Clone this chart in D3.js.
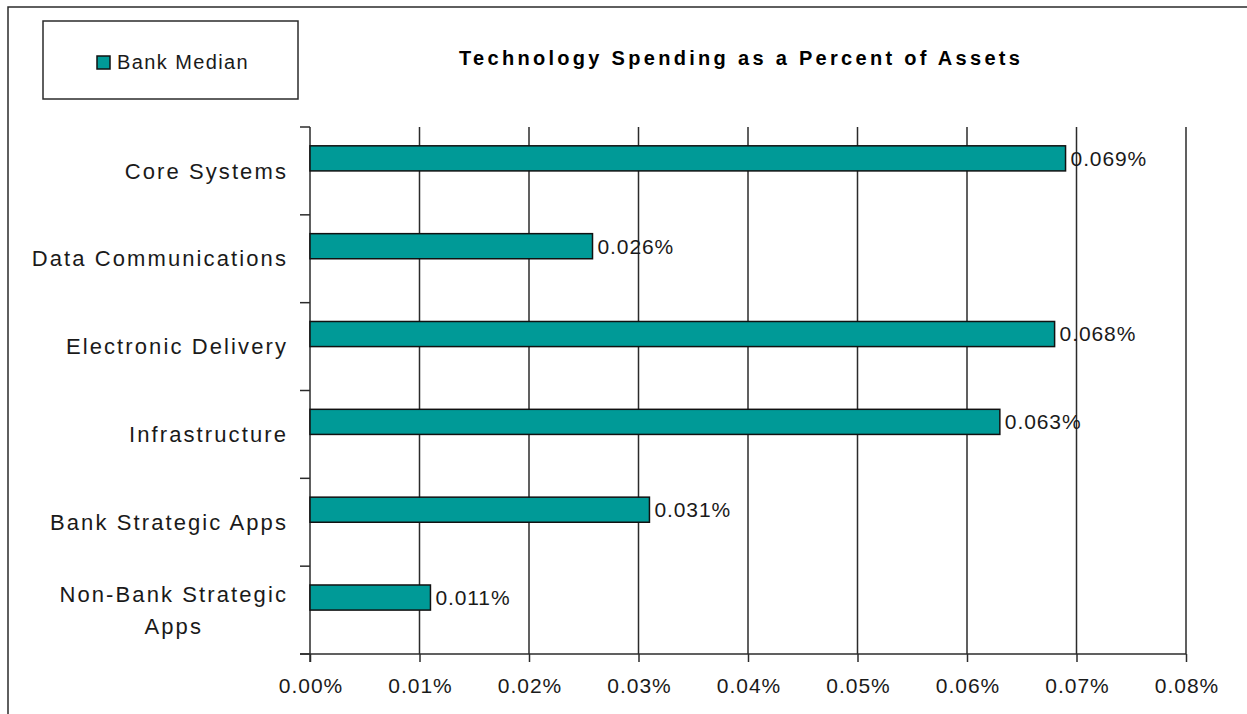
<!DOCTYPE html>
<html>
<head>
<meta charset="utf-8">
<script src="https://cdn.jsdelivr.net/npm/d3@7"></script>
<style>
  html, body { margin: 0; padding: 0; background: #fff; }
  svg { display: block; font-family: "Liberation Sans", Arial, sans-serif; }
  .cat-label { font-size: 22px; letter-spacing: 2.1px; fill: #1a1a1a; }
  .val-label { font-size: 21px; letter-spacing: 0.9px; fill: #1a1a1a; }
  .tick-label { font-size: 21px; letter-spacing: 1px; fill: #1a1a1a; }
  .legend-label { font-size: 20px; letter-spacing: 1.4px; fill: #1a1a1a; }
  .title { font-size: 20px; font-weight: bold; letter-spacing: 3.3px; fill: #000; }
</style>
</head>
<body>
<svg id="chart" width="1247" height="714"></svg>
<script>
// chart data (values are in percent)
const chartTitle = "Technology Spending as a Percent of Assets";
const seriesNames = ["Bank Median"];
const categories = [
  "Core Systems",
  "Data Communications",
  "Electronic Delivery",
  "Infrastructure",
  "Bank Strategic Apps",
  "Non-Bank Strategic Apps"
];
const bankMedian = [0.069, 0.0258, 0.068, 0.063, 0.031, 0.011];
const xTicks = [0, 0.01, 0.02, 0.03, 0.04, 0.05, 0.06, 0.07, 0.08];

const width = 1247;
const height = 714;
const plot = { left: 310, right: 1186, top: 127, bottom: 654 };
const lineColor = "#2b2b2b";
const barColor = "#009a97";

const svg = d3.select("#chart");

svg.append("rect")
  .attr("width", width)
  .attr("height", height)
  .attr("fill", "#fff");

// outer chart frame, cut off at the right and bottom edges
svg.append("path")
  .attr("d", `M8,${height + 5} L8,7 L${width + 5},7`)
  .attr("fill", "none")
  .attr("stroke", lineColor)
  .attr("stroke-width", 1.5);

// scales
const xScale = d3.scaleLinear()
  .domain([0, 0.08])
  .range([plot.left, plot.right]);

const yScale = d3.scaleBand()
  .domain(categories)
  .range([plot.top, plot.bottom])
  .paddingInner(0)
  .paddingOuter(0);

// Excel left room for two series per category (gap width 150%),
// only the first slot holds a bar
const slotScale = d3.scaleBand()
  .domain(["slot0", "slot1"])
  .range([0, yScale.bandwidth()])
  .paddingInner(0)
  .paddingOuter(0.75);

// vertical gridlines
svg.append("g")
  .selectAll("line")
  .data(xTicks.slice(1))
  .join("line")
  .attr("x1", d => xScale(d))
  .attr("x2", d => xScale(d))
  .attr("y1", plot.top)
  .attr("y2", plot.bottom)
  .attr("stroke", lineColor)
  .attr("stroke-width", 1.5);

// x axis
const xAxis = svg.append("g")
  .attr("transform", `translate(0, ${plot.bottom})`)
  .call(d3.axisBottom(xScale)
    .tickValues(xTicks)
    .tickSizeInner(8)
    .tickSizeOuter(0)
    .tickPadding(0)
    .tickFormat(d => d.toFixed(2) + "%"));

xAxis.select(".domain").remove();
xAxis.selectAll(".tick line")
  .attr("stroke", lineColor)
  .attr("stroke-width", 1.5);
xAxis.selectAll(".tick text")
  .attr("class", "tick-label")
  .attr("y", 39)
  .attr("dy", null)
  .attr("dx", 0.5);

xAxis.append("line")
  .attr("x1", plot.left - 10)
  .attr("x2", plot.right)
  .attr("stroke", lineColor)
  .attr("stroke-width", 1.5);

// y axis with ticks on category boundaries
const boundaries = categories.map(c => yScale(c)).concat([plot.bottom]);
const yAxis = svg.append("g");
yAxis.append("line")
  .attr("x1", plot.left)
  .attr("x2", plot.left)
  .attr("y1", plot.top)
  .attr("y2", plot.bottom + 8)
  .attr("stroke", lineColor)
  .attr("stroke-width", 1.5);
yAxis.selectAll("line.btick")
  .data(boundaries)
  .join("line")
  .attr("class", "btick")
  .attr("x1", plot.left - 10)
  .attr("x2", plot.left)
  .attr("y1", d => d)
  .attr("y2", d => d)
  .attr("stroke", lineColor)
  .attr("stroke-width", 1.5);

// category labels, wrapped like Excel does for long names
const labelX = plot.left - 22;
const wrapWidth = 262;
const catLabels = svg.append("g");
categories.forEach(cat => {
  const cy = yScale(cat) + yScale.bandwidth() / 2;
  const probe = catLabels.append("text").attr("class", "cat-label").text(cat);
  if (probe.node().getComputedTextLength() <= wrapWidth) {
    probe.attr("x", labelX).attr("y", cy).attr("dy", "0.35em").attr("text-anchor", "end");
    return;
  }
  // split into lines by words
  const words = cat.split(" ");
  const lines = [];
  let current = [];
  words.forEach(w => {
    const test = current.concat([w]).join(" ");
    probe.text(test);
    if (probe.node().getComputedTextLength() > wrapWidth && current.length) {
      lines.push(current.join(" "));
      current = [w];
    } else {
      current.push(w);
    }
  });
  lines.push(current.join(" "));
  let maxW = 0;
  lines.forEach(l => {
    probe.text(l);
    maxW = Math.max(maxW, probe.node().getComputedTextLength());
  });
  probe.remove();
  const lineH = 32;
  const centerX = labelX - maxW / 2;
  lines.forEach((l, i) => {
    catLabels.append("text")
      .attr("class", "cat-label")
      .attr("x", centerX)
      .attr("y", cy + (i - (lines.length - 1) / 2) * lineH)
      .attr("dy", "0.35em")
      .attr("text-anchor", "middle")
      .text(l);
  });
});

// bars
const barData = categories.map((c, i) => ({ cat: c, value: bankMedian[i] }));

svg.append("g")
  .selectAll("rect")
  .data(barData)
  .join("rect")
  .attr("x", xScale(0))
  .attr("y", d => yScale(d.cat) + slotScale("slot0"))
  .attr("width", d => xScale(d.value) - xScale(0))
  .attr("height", slotScale.bandwidth())
  .attr("fill", barColor)
  .attr("stroke", "#111")
  .attr("stroke-width", 1.5);

// value labels
svg.append("g")
  .selectAll("text")
  .data(barData)
  .join("text")
  .attr("class", "val-label")
  .attr("x", d => xScale(d.value) + 5)
  .attr("y", d => yScale(d.cat) + slotScale("slot0") + slotScale.bandwidth() / 2)
  .attr("dy", "0.35em")
  .text(d => d.value.toFixed(3) + "%");

// title
svg.append("text")
  .attr("class", "title")
  .attr("x", 459)
  .attr("y", 65)
  .text(chartTitle);

// legend
const legend = svg.append("g");
legend.append("rect")
  .attr("x", 43)
  .attr("y", 21)
  .attr("width", 255)
  .attr("height", 78)
  .attr("fill", "#fff")
  .attr("stroke", lineColor)
  .attr("stroke-width", 1.5);
legend.append("rect")
  .attr("x", 97)
  .attr("y", 56)
  .attr("width", 13)
  .attr("height", 13)
  .attr("fill", barColor)
  .attr("stroke", "#111")
  .attr("stroke-width", 1.5);
legend.append("text")
  .attr("class", "legend-label")
  .attr("x", 117)
  .attr("y", 69)
  .text(seriesNames[0]);
</script>
</body>
</html>
